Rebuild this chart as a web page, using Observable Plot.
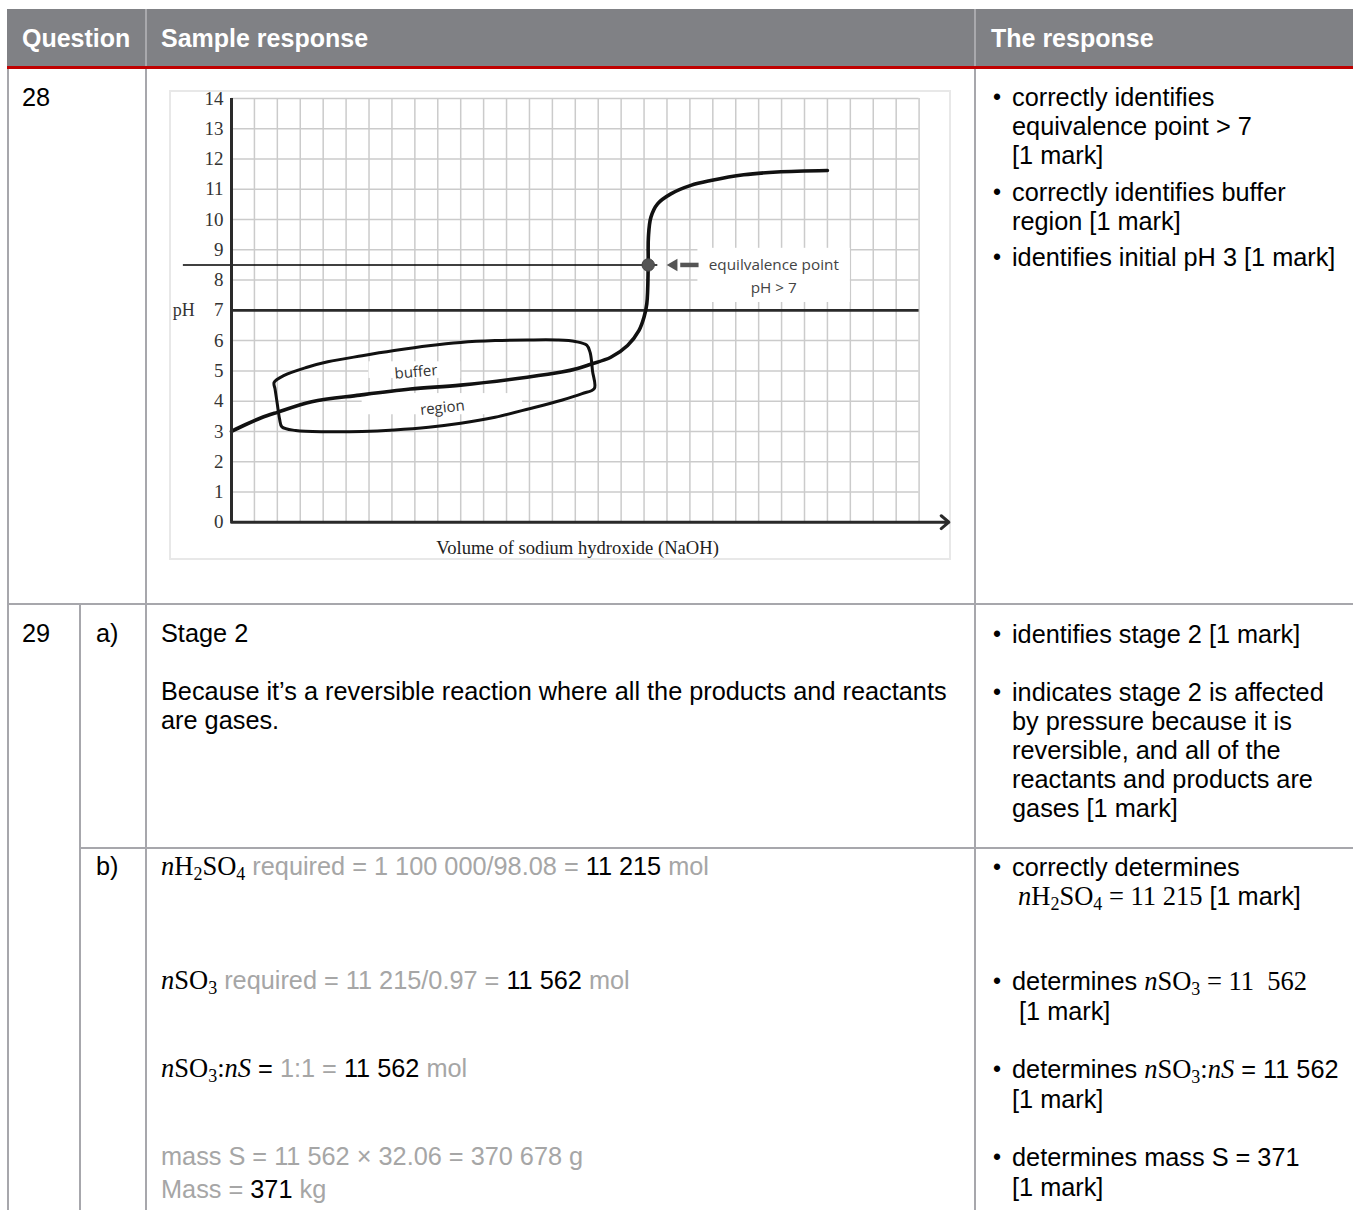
<!DOCTYPE html>
<html><head><meta charset="utf-8">
<script src="https://cdn.jsdelivr.net/npm/d3@7"></script>
<script src="https://cdn.jsdelivr.net/npm/@observablehq/plot@0.6"></script>
<style>
html,body{margin:0;padding:0;background:#fff;}
body{width:1353px;height:1210px;overflow:hidden;position:relative;font-family:"Liberation Sans",Arial,sans-serif;}
.abs{position:absolute;}
.t{position:absolute;font-size:25.3px;line-height:29px;height:29px;white-space:nowrap;color:#000;}
.b{position:absolute;font-size:23px;line-height:29px;height:29px;color:#000;}
.g{color:#a6a6a6}
.m{font-family:"Liberation Serif",serif;font-size:26.5px}
.m sub{font-size:0.68em;vertical-align:-0.28em;line-height:0}
.h{position:absolute;font-weight:bold;color:#fff;font-size:25px;line-height:29px;top:23.5px;white-space:nowrap}
.vl{position:absolute;width:2px;background:#a7a7ac}
.hl{position:absolute;height:2px;background:#a7a7ac}
#chartwrap{position:absolute;left:169px;top:90px;border:2px solid #e8e8e8;width:778px;height:466px;}
#chartwrap svg{display:block}
</style></head>
<body>
<div class="abs" style="left:7px;top:9px;width:1346px;height:57px;background:#808185"></div>
<div class="abs" style="left:145px;top:9px;width:2px;height:57px;background:#a9a9ad"></div>
<div class="abs" style="left:974px;top:9px;width:2px;height:57px;background:#a9a9ad"></div>
<div class="abs" style="left:7px;top:66px;width:1346px;height:3px;background:#c00000"></div>
<div class="h" style="left:22px">Question</div>
<div class="h" style="left:161px">Sample response</div>
<div class="h" style="left:991px">The response</div>

<div class="vl" style="left:7px;top:69px;height:1141px"></div>
<div class="vl" style="left:145px;top:69px;height:1141px"></div>
<div class="vl" style="left:974px;top:69px;height:1141px"></div>
<div class="hl" style="left:7px;top:603px;width:1346px"></div>
<div class="vl" style="left:79px;top:604px;height:606px"></div>
<div class="hl" style="left:80px;top:847px;width:1273px"></div>

<div id="chartwrap"></div>
<div id="texts"></div>

<script>
// ---------- chart data ----------
const pHTicks = [0, 1, 2, 3, 4, 5, 6, 7, 8, 9, 10, 11, 12, 13, 14];
const volumeGrid = [1, 2, 3, 4, 5, 6, 7, 8, 9, 10, 11, 12, 13, 14, 15, 16, 17, 18, 19, 20, 21, 22, 23, 24, 25, 26, 27, 28, 29, 30];
const pHGrid = [1, 2, 3, 4, 5, 6, 7, 8, 9, 10, 11, 12, 13, 14];

const curveVolume = [0, 0.6, 1.3, 2.0, 3.5, 5.6, 7.8, 10.0, 12.9, 14.4, 15.1, 15.67, 16.55, 17.28, 17.78, 18.0, 18.12, 18.18, 18.19, 18.3, 18.59, 19.17, 20.04, 20.91, 22.35, 23.8, 26.0];
const curvePH     = [3.0, 3.22, 3.45, 3.63, 3.98, 4.2, 4.4, 4.53, 4.79, 4.96, 5.08, 5.22, 5.45, 5.84, 6.34, 6.78, 7.22, 8.43, 9.42, 10.08, 10.52, 10.85, 11.13, 11.29, 11.48, 11.57, 11.62];

const loopVolume = [1.86, 2.3, 3.3, 4.2, 5.7, 7.1, 8.6, 10.0, 11.5, 12.9, 14.2, 15.0, 15.5, 15.65, 15.75, 15.83, 15.3, 14.4, 13.0, 11.5, 10.0, 8.6, 7.1, 5.7, 4.2, 2.8, 2.2, 2.1, 2.0, 1.9];
const loopPH     = [4.62, 4.85, 5.12, 5.3, 5.5, 5.67, 5.83, 5.94, 6.0, 6.02, 6.02, 5.97, 5.85, 5.6, 5.0, 4.42, 4.25, 4.03, 3.75, 3.47, 3.27, 3.14, 3.05, 3.0, 2.99, 3.03, 3.15, 3.4, 3.9, 4.4];

const neutralPH = 7;
const equivalenceVolume = 18.18;
const equivalencePH = 8.5;
const guideStartVolume = -2.1;
const guideEndVolume = 18.6;
const axisEndVolume = 31.3;

const arrowTipVolume = 19.3;
const arrowShaftVolume = [19.6, 20.4];

const eqLabels = ["equilvalence point", "pH > 7"];
const eqLabelVolume = [23.66, 23.66];
const eqLabelPH = [8.48, 7.72];
const eqBoxVolume = [20.35, 27.0];
const eqBoxPH = [7.26, 9.05];

const bufferLabels = ["buffer", "region"];
const bufferLabelVolume = [8.05, 9.2];
const bufferLabelPH = [4.96, 3.78];
const bufferLabelAngle = [-5, -6];
const bufferBoxVolume1 = [6.0, 5.7];
const bufferBoxVolume2 = [10.0, 12.7];
const bufferBoxPH1 = [4.75, 3.55];
const bufferBoxPH2 = [5.3, 4.25];

const yAxisTitle = "pH";
const yAxisTitleAt = [-2.08, 7];
const xAxisTitle = "Volume of sodium hydroxide (NaOH)";
const xAxisTitleAt = [15.1, -0.84];

// ---------- build ----------
const curve = curveVolume.map((v, i) => ({v, ph: curvePH[i]}));
const loop = loopVolume.map((v, i) => ({v, ph: loopPH[i]}));
const eqText = eqLabels.map((t, i) => ({t, v: eqLabelVolume[i], ph: eqLabelPH[i]}));
const bufText = bufferLabels.map((t, i) => ({t, v: bufferLabelVolume[i], ph: bufferLabelPH[i], a: bufferLabelAngle[i]}));
const boxes = [
  {x1: eqBoxVolume[0], x2: eqBoxVolume[1], y1: eqBoxPH[0], y2: eqBoxPH[1]},
  ...bufferBoxVolume1.map((x1, i) => ({x1, x2: bufferBoxVolume2[i], y1: bufferBoxPH1[i], y2: bufferBoxPH2[i]}))
];

const serif = "Liberation Serif, Times New Roman, serif";
const sans = "Open Sans, Noto Sans, sans-serif";

const chart = Plot.plot({
  width: 778,
  height: 466,
  marginLeft: 60,
  marginRight: 30.4,
  marginTop: 6,
  marginBottom: 36.3,
  x: {domain: [0, 30], axis: null},
  y: {domain: [0, 14], axis: null},
  style: {background: "white", overflow: "visible", fontFamily: serif, fontSize: "19px"},
  marks: [
    Plot.gridX({ticks: volumeGrid, stroke: "#cbcbcb", strokeOpacity: 1, strokeWidth: 1.5}),
    Plot.gridY({ticks: pHGrid, stroke: "#cbcbcb", strokeOpacity: 1, strokeWidth: 1.5}),
    Plot.rect(boxes, {x1: "x1", x2: "x2", y1: "y1", y2: "y2", fill: "white"}),
    Plot.ruleY([neutralPH], {x1: 0, x2: 30, stroke: "#2a2a2a", strokeWidth: 2.6}),
    Plot.ruleY([equivalencePH], {x1: guideStartVolume, x2: guideEndVolume, stroke: "#000", strokeWidth: 1.5}),
    Plot.line(loop, {x: "v", y: "ph", curve: "catmull-rom-closed", stroke: "#111", strokeWidth: 3}),
    Plot.line(curve, {x: "v", y: "ph", curve: "catmull-rom", stroke: "#111", strokeWidth: 3.6}),
    Plot.ruleX([0], {y1: 0, y2: 14, stroke: "#2a2a2a", strokeWidth: 3}),
    Plot.arrow([0], {x1: 0, x2: axisEndVolume, y1: 0, y2: 0, stroke: "#2a2a2a", strokeWidth: 3, headLength: 5, headAngle: 80}),
    Plot.axisY({ticks: pHTicks, tickSize: 0, tickPadding: 8, fontSize: 19, fontFamily: serif, color: "#333", label: null}),
    Plot.dot([{v: equivalenceVolume, ph: equivalencePH}], {x: "v", y: "ph", r: 6.2, fill: "#555", stroke: "#444", strokeWidth: 1}),
    Plot.ruleY([equivalencePH], {x1: arrowShaftVolume[0], x2: arrowShaftVolume[1], stroke: "#555", strokeWidth: 4.5}),
    Plot.dot([{v: arrowTipVolume, ph: equivalencePH}], {x: "v", y: "ph", symbol: "triangle", r: 4.6, rotate: -90, fill: "#555", stroke: "none"}),
    Plot.text(eqText, {x: "v", y: "ph", text: "t", fontFamily: sans, fontSize: 15.3, fill: "#444"}),
    Plot.text(bufText, {x: "v", y: "ph", text: "t", rotate: "a", fontFamily: sans, fontSize: 15, fill: "#333"}),
    Plot.text([yAxisTitle], {x: yAxisTitleAt[0], y: yAxisTitleAt[1], text: d => d, fontFamily: serif, fontSize: 18, fill: "#333"}),
    Plot.text([xAxisTitle], {x: xAxisTitleAt[0], y: xAxisTitleAt[1], text: d => d, fontFamily: serif, fontSize: 18.6, fill: "#222"})
  ]
});
document.getElementById("chartwrap").appendChild(chart);

// ---------- table text ----------
const N = '<span class="m"><i>n</i>';
const lines = [
  // [left, centerY, html, bullet]
  [22, 97, "28"],
  [1012, 97, "correctly identifies", true],
  [1012, 126, "equivalence point &gt; 7"],
  [1012, 155, "[1 mark]"],
  [1012, 192, "correctly identifies buffer", true],
  [1012, 221, "region [1 mark]"],
  [1012, 257, "identifies initial pH 3 [1 mark]", true],

  [22, 633, "29"],
  [96, 633, "a)"],
  [161, 633, "Stage 2"],
  [161, 691, "Because it’s a reversible reaction where all the products and reactants"],
  [161, 720, "are gases."],
  [1012, 634, "identifies stage 2 [1 mark]", true],
  [1012, 692, "indicates stage 2 is affected", true],
  [1012, 721, "by pressure because it is"],
  [1012, 750, "reversible, and all of the"],
  [1012, 779, "reactants and products are"],
  [1012, 808, "gases [1 mark]"],

  [96, 866, "b)"],
  [161, 866, N + 'H<sub>2</sub>SO<sub>4</sub></span><span class="g"> required = 1 100 000/98.08 = </span>11 215<span class="g"> mol</span>'],
  [161, 980, N + 'SO<sub>3</sub></span><span class="g"> required = 11 215/0.97 = </span>11 562<span class="g"> mol</span>'],
  [161, 1068, N + 'SO<sub>3</sub>:<i>nS</i></span> = <span class="g">1:1 = </span>11 562<span class="g"> mol</span>'],
  [161, 1156, '<span class="g">mass S = 11 562 × 32.06 = 370 678 g</span>'],
  [161, 1189, '<span class="g">Mass = </span>371<span class="g"> kg</span>'],

  [1012, 867, "correctly determines", true],
  [1018, 896, N + 'H<sub>2</sub>SO<sub>4</sub> = 11 215</span> [1 mark]'],
  [1012, 981, 'determines ' + N + 'SO<sub>3</sub> = 11&nbsp;&nbsp;562</span>', true],
  [1019, 1011, "[1 mark]"],
  [1012, 1069, 'determines ' + N + 'SO<sub>3</sub>:<i>nS</i></span> = 11 562', true],
  [1012, 1099, "[1 mark]"],
  [1012, 1157, "determines mass S = 371", true],
  [1012, 1187, "[1 mark]"]
];
const host = document.getElementById("texts");
for (const [x, cy, html, bullet] of lines) {
  const d = document.createElement("div");
  d.className = "t";
  d.style.left = x + "px";
  d.style.top = (cy - 14.5) + "px";
  d.innerHTML = html;
  host.appendChild(d);
  if (bullet) {
    const b = document.createElement("div");
    b.className = "b";
    b.style.left = "993px";
    b.style.top = (cy - 14.5) + "px";
    b.textContent = "•";
    host.appendChild(b);
  }
}
</script>
</body></html>
